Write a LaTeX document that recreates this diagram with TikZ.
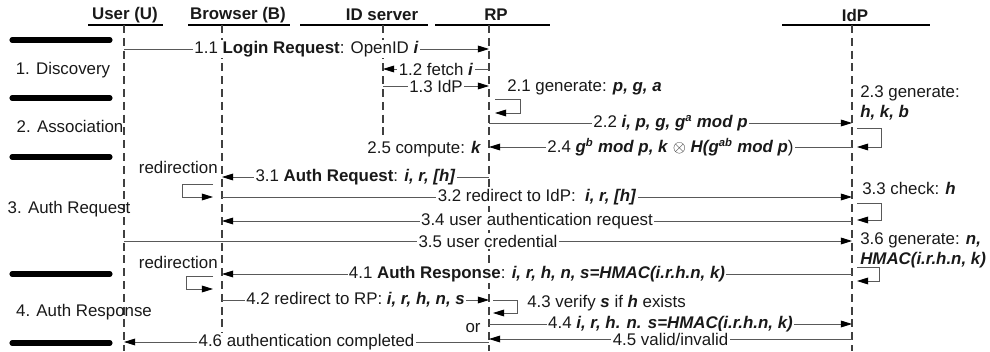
\documentclass[tikz,border=0pt]{standalone}
\usepackage{fontspec}
\setmainfont{Liberation Sans}
\usetikzlibrary{arrows.meta}

\newcommand{\bi}[1]{\textbf{\textit{#1}}}

\begin{document}
\begin{tikzpicture}[
		x=0.025cm, y=-0.025cm,
		every node/.style={font=\fontsize{12}{14.2}\selectfont, text=black!90},
		head/.style={font=\fontsize{12}{14.2}\selectfont\bfseries},
		headline/.style={line width=0.9pt},
		life/.style={draw=black!75, line width=0.9pt, dash pattern=on 0.2cm off 0.12cm},
		phase/.style={line width=3.6pt, line cap=round},
		msg/.style={draw=black!65, line width=0.6pt, -{Triangle[length=0.28cm, width=0.17cm, color=black]}},
		lbl/.style={fill=white, inner sep=1pt},
		note/.style={inner sep=0pt, align=left}
		]
		\useasboundingbox (0,0) rectangle (990,352);
		
		% Participants
		\node[head] (user) at (125,15) {User (U)};
		\node[head] (browser) at (238,15) {Browser (B)};
		\node[head] (idsrv) at (382,15) {ID server};
		\node[head] (rp) at (496,15) {RP};
		\node[head] (idp) at (855,15) {IdP};
		
		\draw[headline] (88,25) -- (163,25);
		\draw[headline] (188,25) -- (290,25);
		\draw[headline] (300,25) -- (428,25);
		\draw[headline] (435,25) -- (550,25);
		\draw[headline] (782,25) -- (930,25);
		
		% Lifelines
		\coordinate (U) at (124,25);
		\coordinate (B) at (222,25);
		\coordinate (S) at (383,25);
		\coordinate (RP) at (489,25);
		\coordinate (IdP) at (852,25);
		
		\draw[life] (U) -- (U |- 0,351);
		\draw[life] (B) -- (B |- 0,351);
		\draw[life] (S) -- (S |- 0,140);
		\draw[life] (RP) -- (RP |- 0,351);
		\draw[life] (IdP) -- (IdP |- 0,351);
		
		% Phases
		\draw[phase] (12,40) -- (110,40);
		\draw[phase] (12,98) -- (110,98);
		\draw[phase] (12,157) -- (110,157);
		\draw[phase] (12,274) -- (110,274);
		\draw[phase] (12,343) -- (110,343);
		
		\node (discovery) at (63,70) {1. Discovery};
		\node (association) at (70,126) {2. Association};
		\node (authreq) at (69,209) {3. Auth Request};
		\node (authresp) at (84,312) {4. Auth Response};
		
		% 1. Discovery
		\draw[msg] (U |- 0,49) -- node[lbl] {1.1 \textbf{Login Request}: OpenID \bi{i}} (RP |- 0,49);
		\draw[msg] (RP |- 0,69) -- node[lbl] {1.2 fetch \bi{i}} (S |- 0,69);
		\draw[msg] (S |- 0,86) -- node[lbl] {1.3 IdP} (RP |- 0,86);
		
		% 2. Association
		\node[note, anchor=west] (gen21) at (507,87) {2.1 generate: \bi{p, g, a}};
		\draw[msg] (RP |- 0,99) ++(6,0) -- ++(25,0) -- ++(0,14) -- ++(-25,0);
		\draw[msg] (RP |- 0,123) -- node[lbl] {2.2 \bi{i, p, g, g}\textsuperscript{\bi{a}} \bi{mod p}} (IdP |- 0,123);
		\node[note, anchor=west] (gen23) at (860,103) {2.3 generate:\\\bi{h, k, b}};
		\draw[msg] (IdP |- 0,128) ++(5,0) -- ++(24,0) -- ++(0,19) -- ++(-24,0);
		\draw[msg] (IdP |- 0,147) -- node[lbl] {2.4 \bi{g}\textsuperscript{\bi{b}} \bi{mod p, k} $\otimes$ \bi{H(g}\textsuperscript{\bi{ab}} \bi{mod p})} (RP |- 0,147);
		\node[lbl, anchor=east] (comp25) at (483,149) {2.5 compute: \bi{k}};
		
		% 3. Auth Request
		\draw[msg] (RP |- 0,177) -- node[lbl] {3.1 \textbf{Auth Request}: \bi{i, r, [h]}} (B |- 0,177);
		\node[note, anchor=east] (redir1) at (218,167) {redirection};
		\draw[msg] (B |- 0,184) ++(-9,0) -- ++(-31,0) -- ++(0,13) -- ++(31,0);
		\draw[msg] (B |- 0,197) -- node[lbl] {3.2 redirect to IdP:\ \ \bi{i, r, [h]}} (IdP |- 0,197);
		\node[note, anchor=west] (check33) at (862,188) {3.3 check: \bi{h}};
		\draw[msg] (IdP |- 0,203) ++(5,0) -- ++(24,0) -- ++(0,17) -- ++(-24,0);
		\draw[msg] (IdP |- 0,221) -- node[lbl] {3.4 user authentication request} (B |- 0,221);
		\draw[msg] (U |- 0,241) -- node[lbl] {3.5 user credential} (IdP |- 0,241);
		\node[note, anchor=west] (gen36) at (860,250) {3.6 generate: \bi{n,}\\\bi{HMAC(i.r.h.n, k)}};
		\draw[msg] (IdP |- 0,267) ++(5,0) -- ++(22,0) -- ++(0,14) -- ++(-22,0);
		
		% 4. Auth Response
		\draw[msg] (IdP |- 0,274) -- node[lbl] {4.1 \textbf{Auth Response}: \bi{i, r, h, n, s=HMAC(i.r.h.n, k)}} (B |- 0,274);
		\node[note, anchor=east] (redir2) at (218,262) {redirection};
		\draw[msg] (B |- 0,276) ++(-9,0) -- ++(-27,0) -- ++(0,13) -- ++(27,0);
		\draw[msg] (B |- 0,300) -- node[lbl] {4.2 redirect to RP: \bi{i, r, h, n, s}} (RP |- 0,300);
		\draw[msg] (RP |- 0,300) ++(4,0) -- ++(24,0) -- ++(0,13) -- ++(-24,0);
		\node[note, anchor=west] (verify43) at (527,303) {4.3 verify \bi{s} if \bi{h} exists};
		\node[note] (or) at (473,328) {or};
		\draw[msg] (RP |- 0,324) -- node[lbl] {4.4 \bi{i, r, h. n. s=HMAC(i.r.h.n, k)}} (IdP |- 0,324);
		\draw[msg] (IdP |- 0,339) -- node[lbl] {4.5 valid/invalid} (RP |- 0,339);
		\draw[msg] (RP |- 0,342) -- node[lbl] {4.6 authentication completed} (U |- 0,342);
		
	\end{tikzpicture}
\end{document}
